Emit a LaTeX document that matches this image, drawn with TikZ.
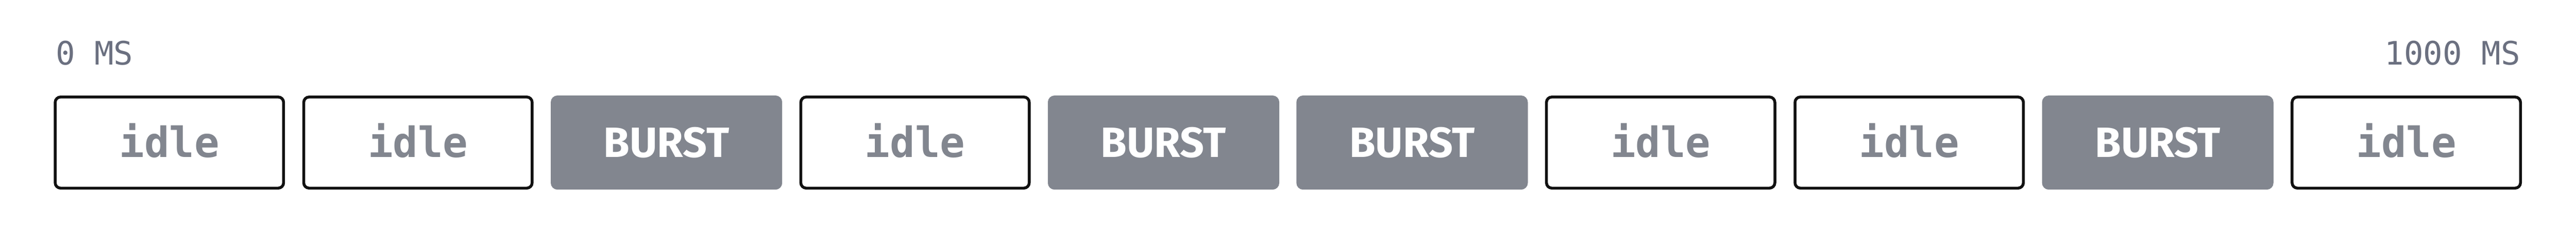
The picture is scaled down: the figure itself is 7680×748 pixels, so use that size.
\documentclass[tikz,border=0pt]{standalone}
\usepackage{fontspec}
\setmainfont{DejaVu Sans}
\newfontfamily\monofont{DejaVu Sans Mono}
\newfontfamily\burstfont{Fira Sans}
\definecolor{boxgray}{HTML}{82868F}
\definecolor{labelgray}{HTML}{6B7080}
\definecolor{edgeblack}{HTML}{111111}
\begin{document}
\begin{tikzpicture}[x=0.1pt,y=-0.1pt,
  idlebox/.style={draw=edgeblack,line width=0.85pt,fill=white,rounded corners=1.6pt},
  burstbox/.style={fill=boxgray,rounded corners=2pt},
  idletext/.style={anchor=base,inner sep=0pt,text=boxgray,font=\monofont\bfseries\fontsize{12.4}{14}\selectfont},
  bursttext/.style={anchor=base,inner sep=0pt,text=white,font=\burstfont\bfseries\fontsize{12.6}{14}\selectfont},
  axislabel/.style={anchor=base,inner sep=0pt,text=labelgray,font=\monofont\fontsize{9.6}{11}\selectfont}]
\useasboundingbox (0,0) rectangle (7680,748);
\node[axislabel,anchor=base west] (t0) at (164,192) {0 MS};
\node[axislabel,anchor=base east] (t1) at (7516,192) {1000 MS};
\def\tmpidle{idle}
\foreach \i/\kind/\txt in {0/idle/idle,1/idle/idle,2/burst/BURST,3/idle/idle,4/burst/BURST,5/burst/BURST,6/idle/idle,7/idle/idle,8/burst/BURST,9/idle/idle}{
  \pgfmathsetmacro{\xl}{160+\i*741}
  \ifx\kind\tmpidle
    \draw[idlebox] (\xl+4.5,288.5) rectangle (\xl+685.5,559.5);
    \node[idletext] (b\i) at (\xl+345,467) {\txt};
  \else
    \fill[burstbox] (\xl,284) rectangle (\xl+690,564);
    \node[bursttext] (b\i) at (\xl+345,467) {\txt};
  \fi
}
\end{tikzpicture}
\end{document}
